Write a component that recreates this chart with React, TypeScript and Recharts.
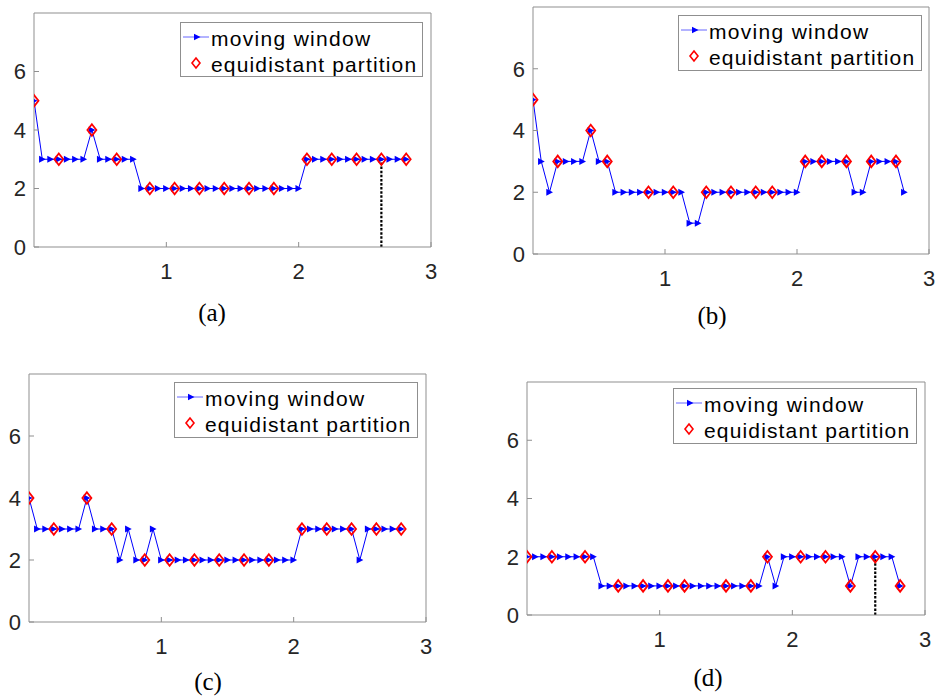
import React from "react";
import { LineChart, Line, XAxis, YAxis, Legend, ReferenceLine } from "recharts";

// sample spacing of the moving window (1/16)
const STEP = 0.0625;
const xTicks = [1, 2, 3];
const yTicks = [0, 2, 4, 6];
const captions = ["(a)", "(b)", "(c)", "(d)"];
const seriesNames = ["moving window", "equidistant partition"];

// moving window values, one per sample
const windowA = [5, 3, 3, 3, 3, 3, 3, 4, 3, 3, 3, 3, 3, 2, 2, 2, 2, 2, 2, 2, 2, 2, 2, 2, 2, 2, 2, 2, 2, 2, 2, 2, 2, 3, 3, 3, 3, 3, 3, 3, 3, 3, 3, 3, 3, 3];
const windowB = [5, 3, 2, 3, 3, 3, 3, 4, 3, 3, 2, 2, 2, 2, 2, 2, 2, 2, 2, 1, 1, 2, 2, 2, 2, 2, 2, 2, 2, 2, 2, 2, 2, 3, 3, 3, 3, 3, 3, 2, 2, 3, 3, 3, 3, 2];
const windowC = [4, 3, 3, 3, 3, 3, 3, 4, 3, 3, 3, 2, 3, 2, 2, 3, 2, 2, 2, 2, 2, 2, 2, 2, 2, 2, 2, 2, 2, 2, 2, 2, 2, 3, 3, 3, 3, 3, 3, 3, 2, 3, 3, 3, 3, 3];
const windowD = [2, 2, 2, 2, 2, 2, 2, 2, 2, 1, 1, 1, 1, 1, 1, 1, 1, 1, 1, 1, 1, 1, 1, 1, 1, 1, 1, 1, 1, 2, 1, 2, 2, 2, 2, 2, 2, 2, 2, 1, 2, 2, 2, 2, 2, 1];

// equidistant partition: sample index and value
const partIdxA = [0, 3, 7, 10, 14, 17, 20, 23, 26, 29, 33, 36, 39, 42, 45];
const partValA = [5, 3, 4, 3, 2, 2, 2, 2, 2, 2, 3, 3, 3, 3, 3];
const partIdxB = [0, 3, 7, 9, 14, 17, 21, 24, 27, 29, 33, 35, 38, 41, 44];
const partValB = [5, 3, 4, 3, 2, 2, 2, 2, 2, 2, 3, 3, 3, 3, 3];
const partIdxC = [0, 3, 7, 10, 14, 17, 20, 23, 26, 29, 33, 36, 39, 42, 45];
const partValC = [4, 3, 4, 3, 2, 2, 2, 2, 2, 2, 3, 3, 3, 3, 3];
const partIdxD = [0, 3, 7, 11, 14, 17, 19, 24, 27, 29, 33, 36, 39, 42, 45];
const partValD = [2, 2, 2, 1, 1, 1, 1, 1, 1, 2, 2, 2, 1, 2, 1];

// dotted marker (x, y top)
const cutA = { x: 2.625, y: 3 };
const cutD = { x: 2.625, y: 2 };

const AXIS = "#8f8f8f";
const TEXT = "#262626";
const SANS = "'Liberation Sans', Arial, sans-serif";

const Tri = (p: any) => {
  const { cx, cy, index } = p;
  if (cx == null || cy == null) return <g key={`t${index}`} />;
  return <path key={`t${index}`} d={`M${cx - 3.2},${cy - 3.5}L${cx + 3.5},${cy}L${cx - 3.2},${cy + 3.5}Z`} fill="#0000ff" />;
};

const Dia = (p: any) => {
  const { cx, cy, index } = p;
  if (cx == null || cy == null) return <g key={`d${index}`} />;
  return <path key={`d${index}`} d={`M${cx},${cy - 5.8}L${cx + 4.5},${cy}L${cx},${cy + 5.8}L${cx - 4.5},${cy}Z`} fill="none" stroke="#ff0000" strokeWidth={1.8} />;
};

const LegendBox = ({ w, h }: { w: number; h: number }) => (
  <svg width={w} height={h} style={{ display: "block" }}>
    <rect x={0.5} y={0.5} width={w - 1} height={h - 1} fill="#fff" stroke={AXIS} />
    <line x1={3} x2={29} y1={15} y2={15} stroke="#0000ff" strokeOpacity={0.6} strokeWidth={1} />
    <path d="M14,11.7L20.5,15L14,18.3Z" fill="#0000ff" />
    <text x={31} y={24} fontFamily={SANS} fontSize={21} letterSpacing={1.3} fill="#000">{seriesNames[0]}</text>
    <path d="M16,36L20,41L16,46L12,41Z" fill="none" stroke="#ff0000" strokeWidth={1.6} />
    <text x={31} y={50} fontFamily={SANS} fontSize={21} letterSpacing={1.15} fill="#000">{seriesNames[1]}</text>
  </svg>
);

type PanelProps = {
  values: number[];
  partIdx: number[];
  partVal: number[];
  cut?: { x: number; y: number };
  plot: { l: number; t: number; r: number; b: number };
  legend: { l: number; t: number; r: number; b: number };
  caption: string;
  cap: { x: number; y: number };
};

// space around the plot box; each axis takes 1px of it
const ML = 50;
const MT = 10;
const MR = 30;
const MB = 60;

function Panel({ values, partIdx, partVal, cut, plot, legend, caption, cap }: PanelProps) {
  const winData = values.map((v, i) => ({ x: i * STEP, y: v }));
  const partData = partIdx.map((k, i) => ({ x: k * STEP, y: partVal[i] }));
  const w = plot.r - plot.l + ML + MR;
  const h = plot.b - plot.t + MT + MB;
  const left = plot.l - ML;
  const top = plot.t - MT;
  const lw = legend.r - legend.l;
  const lh = legend.b - legend.t;
  const tickStyle = { fill: TEXT, fontSize: 22, fontFamily: SANS };
  return (
    <>
      <div style={{ position: "absolute", left, top }}>
        <LineChart width={w} height={h} margin={{ left: ML - 1, top: MT - 1, right: MR - 1, bottom: MB - 1 }}>
          <XAxis dataKey="x" type="number" domain={[0, 3]} ticks={xTicks} interval={0} height={1}
            tickSize={-5} tickMargin={21} stroke={AXIS} tick={tickStyle} allowDataOverflow />
          <XAxis xAxisId="top" orientation="top" type="number" domain={[0, 3]} ticks={[1, 2]} height={1}
            tickSize={-5} stroke={AXIS} tick={false} />
          <YAxis type="number" domain={[0, 8]} ticks={yTicks} interval={0} width={1}
            tickSize={-5} tickMargin={13} stroke={AXIS} tick={tickStyle} allowDataOverflow />
          <YAxis yAxisId="right" orientation="right" type="number" domain={[0, 8]} ticks={[2, 4, 6]} width={1}
            tickSize={-5} stroke={AXIS} tick={false} />
          {cut && (
            <ReferenceLine segment={[{ x: cut.x, y: 0 }, { x: cut.x, y: cut.y }]} stroke="#000"
              strokeWidth={2.2} strokeDasharray="2.5 1.6" />
          )}
          <Line data={winData} dataKey="y" name={seriesNames[0]} type="linear" stroke="#0000ff" strokeWidth={1}
            dot={Tri} activeDot={false} isAnimationActive={false} />
          <Line data={partData} dataKey="y" name={seriesNames[1]} type="linear" stroke="none" strokeWidth={0}
            dot={Dia} activeDot={false} isAnimationActive={false} />
          <Legend layout="vertical" align="center" verticalAlign="middle"
            wrapperStyle={{ position: "absolute", left: legend.l - left, top: legend.t - top, width: lw, height: lh }}
            content={() => <LegendBox w={lw} h={lh} />} />
        </LineChart>
      </div>
      <div style={{ position: "absolute", left: cap.x - 40, width: 80, top: cap.y - 15, textAlign: "center",
        fontFamily: "'Liberation Serif', 'DejaVu Serif', serif", fontSize: 25, lineHeight: "30px", color: "#000" }}>
        {caption}
      </div>
    </>
  );
}

export default function App() {
  return (
    <div style={{ position: "absolute", left: 0, top: 0, width: 937, height: 698, background: "#fff" }}>
      <Panel values={windowA} partIdx={partIdxA} partVal={partValA} cut={cutA}
        plot={{ l: 34, t: 13, r: 431, b: 247 }} legend={{ l: 180, t: 22, r: 423, b: 77 }}
        caption={captions[0]} cap={{ x: 212, y: 313 }} />
      <Panel values={windowB} partIdx={partIdxB} partVal={partValB}
        plot={{ l: 533, t: 7, r: 929, b: 254 }} legend={{ l: 678, t: 15, r: 922, b: 71 }}
        caption={captions[1]} cap={{ x: 712, y: 316 }} />
      <Panel values={windowC} partIdx={partIdxC} partVal={partValC}
        plot={{ l: 29, t: 374, r: 426, b: 622 }} legend={{ l: 174, t: 382, r: 418, b: 438 }}
        caption={captions[2]} cap={{ x: 208, y: 682 }} />
      <Panel values={windowD} partIdx={partIdxD} partVal={partValD} cut={cutD}
        plot={{ l: 527, t: 382, r: 925, b: 615 }} legend={{ l: 673, t: 388, r: 917, b: 444 }}
        caption={captions[3]} cap={{ x: 708, y: 678 }} />
    </div>
  );
}
